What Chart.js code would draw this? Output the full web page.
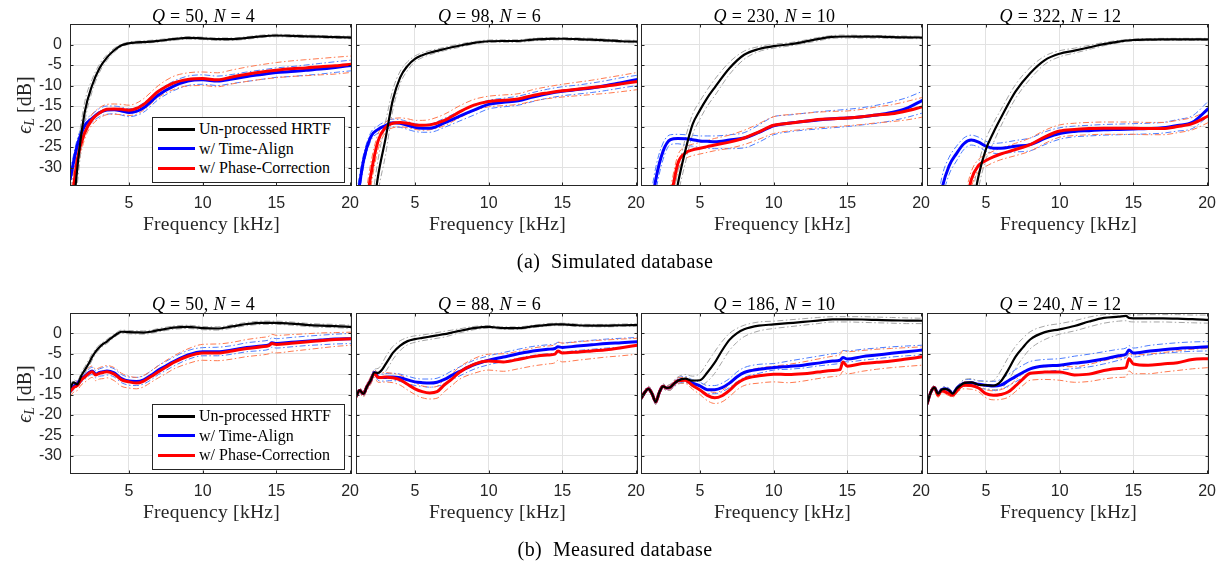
<!DOCTYPE html>
<html>
<head>
<meta charset="utf-8">
<script src="https://cdn.jsdelivr.net/npm/chart.js@4.4.1/dist/chart.umd.min.js"></script>
<style>
body { margin: 0; background: #fff; }
#fig { position: relative; width: 1225px; height: 561px; overflow: hidden; font-family: "Liberation Serif", "Times New Roman", serif; color: #000; }
canvas { position: absolute; }
.ttl { position: absolute; font-size: 18px; white-space: nowrap; transform: translate(-50%, -50%); letter-spacing: 0.3px; }
.xlab { position: absolute; font-size: 19.5px; white-space: nowrap; color: #262626; transform: translate(-50%, -50%); letter-spacing: 0.3px; }
.ylab { position: absolute; font-size: 20px; white-space: nowrap; color: #262626; transform: translate(-50%, -50%) rotate(-90deg); }
.ylab sub { font-size: 0.7em; line-height: 0; vertical-align: -0.25em; }
.cap { position: absolute; font-size: 20px; white-space: nowrap; transform: translate(-50%, -50%); letter-spacing: 0.4px; }
.leg { position: absolute; background: #fff; border: 1px solid #262626; box-sizing: border-box; }
.leg .ln { position: absolute; left: 5px; width: 37px; height: 3px; }
.leg .tx { position: absolute; left: 46px; font-size: 16px; white-space: nowrap; transform: translateY(-50%); }
</style>
</head>
<body>
<div id="fig"></div>
<script>
// frequency grids (kHz)
const freqSim = [1, 1.5, 2, 2.5, 3, 3.5, 4, 4.5, 5, 5.5, 6, 7, 8, 9, 10, 11, 12, 13, 14, 15, 16, 17, 18, 19, 20.1];
const freqMeas = [1, 1.25, 1.5, 1.75, 2, 2.25, 2.5, 2.75, 3, 3.25, 3.5, 4, 4.5, 5, 5.5, 6, 6.5, 7, 7.5, 8, 9, 10, 11, 12, 13, 14, 14.5, 14.7, 15, 16, 17, 18, 19, 20.1];

const xTicks = [5, 10, 15, 20];
const yTicks = [0, -5, -10, -15, -20, -25, -30];

const simQ = [50, 98, 230, 322];
const simN = [4, 6, 10, 12];
const measQ = [50, 88, 186, 240];
const measN = [4, 6, 10, 12];

const seriesNames = ["Un-processed HRTF", "w/ Time-Align", "w/ Phase-Correction"];

// simulated database, panel 1
const s1Black   = [-50, -30, -16.5, -10, -5.8, -3.2, -1.4, -0.2, 0.3, 0.5, 0.6, 0.9, 1.3, 1.6, 1.5, 1.3, 1.3, 1.6, 2.0, 2.2, 2.1, 2.0, 1.9, 1.8, 1.7];
const s1BlackHi = [-45, -26, -14, -8.5, -4.8, -2.5, -0.9, 0.1, 0.6, 0.8, 0.9, 1.2, 1.6, 1.9, 1.8, 1.6, 1.6, 1.9, 2.3, 2.5, 2.4, 2.3, 2.2, 2.1, 2.0];
const s1BlackLo = [-55, -34, -19, -11.5, -6.8, -3.9, -1.9, -0.5, 0, 0.2, 0.3, 0.6, 1.0, 1.3, 1.2, 1.0, 1.0, 1.3, 1.7, 1.9, 1.8, 1.7, 1.6, 1.5, 1.4];
const s1Blue    = [-33, -24.5, -19.8, -18, -16.6, -16, -15.9, -16.2, -16.6, -16.3, -15.4, -12.3, -10.2, -8.9, -8.6, -8.9, -8.4, -7.8, -7.3, -6.8, -6.6, -6.3, -6.0, -5.6, -5.1];
const s1BlueHi  = [-31, -23, -18.7, -17, -15.6, -15, -15, -15.3, -15.7, -15.3, -14.2, -11.2, -9, -7.7, -7.4, -7.7, -7.3, -6.7, -6.2, -5.7, -5.4, -5.0, -4.6, -4.2, -3.8];
const s1BlueLo  = [-35, -26, -21, -19, -17.6, -17, -16.9, -17.2, -17.6, -17.3, -16.5, -13.4, -11.3, -10, -9.7, -10, -9.5, -9, -8.5, -8, -7.8, -7.5, -7.2, -6.8, -6.4];
const s1Red     = [-42, -28, -21.5, -18.3, -16.7, -15.8, -15.7, -15.8, -16.0, -15.6, -14.6, -11.4, -9.4, -8.5, -8.3, -8.6, -7.9, -7.25, -6.7, -6.25, -5.9, -5.7, -5.4, -5.2, -4.8];
const s1RedHi   = [-38, -25, -20, -17, -15.4, -14.6, -14.5, -14.6, -14.8, -14.3, -13.2, -10, -7.8, -6.9, -6.7, -6.9, -6.2, -5.5, -4.9, -4.4, -4.0, -3.7, -3.4, -3.1, -2.8];
const s1RedLo   = [-46, -31, -23, -19.6, -18, -17.1, -17, -17.1, -17.3, -17, -16, -12.9, -11, -10.1, -10, -10.3, -9.6, -9, -8.5, -8.1, -7.8, -7.6, -7.4, -7.2, -6.8];

// simulated database, panel 2
const s2Black   = [-60, -55, -45, -32, -23, -13.5, -8, -5.2, -3.5, -2.6, -2, -1.1, -0.3, 0.4, 0.8, 0.85, 0.85, 1.2, 1.35, 1.4, 1.3, 1.2, 1.0, 0.8, 0.7];
const s2BlackHi = [-55, -50, -40, -28, -19, -11, -6.5, -4.2, -2.8, -2, -1.5, -0.7, 0.1, 0.7, 1.1, 1.15, 1.15, 1.5, 1.65, 1.7, 1.6, 1.5, 1.3, 1.1, 1.0];
const s2BlackLo = [-65, -60, -50, -36, -27, -16, -9.5, -6.3, -4.2, -3.2, -2.5, -1.5, -0.7, 0.1, 0.5, 0.55, 0.55, 0.9, 1.05, 1.1, 1.0, 0.9, 0.7, 0.5, 0.4];
const s2Blue    = [-40, -28.5, -22.5, -20.7, -19.8, -19.1, -19.2, -19.7, -20.2, -20.4, -20.4, -19.1, -17.5, -16, -14.6, -14.1, -13.7, -12.8, -12, -11.4, -11, -10.6, -10, -9.3, -8.5];
const s2BlueHi  = [-37, -27, -21.5, -19.8, -18.8, -18.2, -18.3, -18.8, -19.3, -19.5, -19.4, -18, -16.3, -14.8, -13.6, -13.1, -12.6, -11.7, -10.9, -10.3, -9.9, -9.4, -8.8, -8.1, -7.5];
const s2BlueLo  = [-43, -30, -23.5, -21.6, -20.8, -20.1, -20.2, -20.7, -21.2, -21.4, -21.4, -20.2, -18.7, -17.2, -15.7, -15.2, -14.8, -13.9, -13.1, -12.5, -12.1, -11.7, -11.2, -10.6, -10];
const s2Red     = [-60, -45, -32, -23.5, -20.2, -19.2, -19, -19.2, -19.6, -19.7, -19.6, -18.5, -16.5, -14.8, -13.9, -13.6, -13.3, -12.4, -11.8, -11.3, -10.9, -10.5, -10.1, -9.6, -9];
const s2RedHi   = [-55, -41, -29, -21.8, -19, -18.1, -17.9, -18.1, -18.5, -18.5, -18.3, -17, -15, -13.4, -12.6, -12.3, -12, -11, -10.3, -9.7, -9.2, -8.7, -8.1, -7.5, -6.8];
const s2RedLo   = [-65, -49, -35, -25.5, -21.5, -20.3, -20.1, -20.3, -20.7, -20.9, -20.8, -19.8, -17.9, -16.2, -15.2, -14.9, -14.6, -13.8, -13.2, -12.8, -12.5, -12.2, -11.9, -11.5, -11];

// simulated database, panel 3
const s3Black   = [-90, -80, -70, -60, -45, -34, -26, -19.5, -16, -13, -10.5, -5.8, -2.5, -1.1, -0.4, 0, 0.6, 1.3, 1.85, 1.95, 1.9, 1.9, 1.8, 1.75, 1.7];
const s3BlackHi = [-85, -75, -65, -55, -41, -31, -23, -17, -13.8, -11, -8.5, -4.3, -1.6, -0.5, 0.1, 0.4, 1.0, 1.7, 2.2, 2.3, 2.2, 2.2, 2.1, 2.05, 2.0];
const s3BlackLo = [-95, -85, -75, -65, -49, -37, -29, -22, -18.2, -15, -12.5, -7.3, -3.6, -1.7, -0.9, -0.4, 0.2, 0.9, 1.5, 1.6, 1.55, 1.55, 1.5, 1.45, 1.4];
const s3Blue    = [-60, -45, -33, -26, -23.2, -22.9, -23, -23.2, -23.5, -23.6, -23.7, -23.3, -22.8, -21.4, -19.8, -19.2, -18.8, -18.4, -18.1, -17.9, -17.6, -17.2, -16.6, -15.6, -13.6];
const s3BlueHi  = [-55, -41, -30, -24, -22, -21.9, -22, -22.1, -22.3, -22.3, -22.3, -22, -21.5, -19.6, -17.6, -17.2, -16.8, -16.4, -16.1, -15.8, -15.4, -14.8, -14, -13, -11.4];
const s3BlueLo  = [-65, -49, -36, -28, -24.4, -24.2, -24.5, -24.8, -25.1, -25.3, -25.4, -25.4, -25.2, -23.8, -22, -21.3, -20.9, -20.6, -20.3, -20, -19.6, -19.2, -18.6, -17.8, -16.7];
const s3Red     = [-70, -65, -58, -48, -38, -29, -26.5, -25.7, -25.3, -24.9, -24.5, -23.8, -22.8, -21.3, -19.7, -19.2, -18.8, -18.3, -18.1, -17.9, -17.6, -17.2, -16.9, -16.2, -15.2];
const s3RedHi   = [-65, -60, -53, -44, -35, -27, -25, -24.3, -23.9, -23.4, -22.9, -22.1, -20.9, -19.3, -17.6, -17.1, -16.8, -16.5, -16.3, -16.2, -15.8, -15.2, -14.7, -13.9, -12.9];
const s3RedLo   = [-75, -70, -63, -52, -41, -31, -28, -27.1, -26.7, -26.3, -25.9, -25.3, -24.4, -23.1, -21.7, -21.1, -20.7, -20.3, -20.1, -19.8, -19.5, -19.1, -18.8, -18.4, -17.7];

// simulated database, panel 4
const s4Black   = [-95, -90, -85, -78, -68, -55, -42, -32, -25.5, -21.5, -18, -11.5, -7, -3.8, -2.25, -1.5, -0.7, 0.1, 0.7, 1.1, 1.2, 1.25, 1.25, 1.25, 1.25];
const s4BlackHi = [-90, -85, -80, -72, -62, -50, -38, -29, -23, -19.2, -16, -9.8, -5.6, -2.8, -1.5, -0.9, -0.2, 0.5, 1.0, 1.35, 1.45, 1.5, 1.5, 1.5, 1.5];
const s4BlackLo = [-100, -95, -90, -84, -74, -60, -46, -35, -28, -24, -20, -13.2, -8.4, -4.8, -3, -2.1, -1.2, -0.3, 0.4, 0.85, 0.95, 1.0, 1.0, 1.0, 1.0];
const s4Blue    = [-60, -48, -35.5, -29.6, -26.6, -24.2, -23.3, -23.8, -24.8, -25.3, -25.3, -24.8, -24.4, -22.9, -21.7, -21.2, -21, -20.8, -20.7, -20.6, -20.5, -20.3, -19.75, -19, -15.6];
const s4BlueHi  = [-55, -44, -32.5, -27.5, -24.8, -22.8, -22.1, -22.6, -23.6, -24.1, -24, -23.4, -22.8, -21.3, -20.3, -19.9, -19.7, -19.5, -19.4, -19.3, -19.2, -19, -18.3, -17.4, -13.8];
const s4BlueLo  = [-65, -52, -38.5, -31.7, -28.4, -25.6, -24.5, -25, -26, -26.5, -26.6, -26.2, -25.9, -24.4, -23.1, -22.5, -22.3, -22.1, -22, -21.9, -21.8, -21.6, -21.1, -20.5, -17.4];
const s4Red     = [-80, -75, -70, -60, -50, -42, -33, -29.5, -28.3, -27.4, -26.7, -25.6, -24.4, -22.5, -21.1, -20.7, -20.5, -20.4, -20.4, -20.4, -20.5, -20.5, -20, -19.3, -17.4];
const s4RedHi   = [-75, -70, -65, -56, -46, -38, -31, -28, -26.9, -26, -25.3, -24.1, -22.8, -20.9, -19.6, -19.2, -19, -18.9, -18.9, -18.9, -19, -19, -18.5, -17.8, -16.1];
const s4RedLo   = [-85, -80, -75, -64, -54, -46, -35, -31, -29.7, -28.8, -28.1, -27.1, -26, -24.1, -22.6, -22.2, -22, -21.9, -21.9, -21.9, -22, -22, -21.5, -20.8, -19];

// measured database, panel 1
const m1Black   = [-13.5, -12, -12.5, -10.5, -9, -7.5, -5.8, -4.4, -3.4, -2.6, -2, -0.6, 0.4, 0.3, 0.25, 0.2, 0.4, 0.8, 1.1, 1.4, 1.6, 1.3, 1.2, 1.7, 2.3, 2.6, 2.6, 2.6, 2.6, 2.4, 2.1, 1.9, 1.8, 1.6];
const m1BlackHi = [-13, -11.4, -11.8, -9.7, -8.2, -6.6, -5, -3.8, -2.8, -2.1, -1.5, -0.2, 0.8, 0.7, 0.65, 0.6, 0.8, 1.2, 1.5, 1.8, 2.0, 1.7, 1.6, 2.1, 2.7, 3.0, 3.0, 3.0, 3.0, 2.8, 2.5, 2.3, 2.2, 2.0];
const m1BlackLo = [-14, -12.6, -13.2, -11.3, -9.8, -8.4, -6.6, -5, -4, -3.1, -2.5, -1, 0, -0.1, -0.15, -0.2, 0, 0.4, 0.7, 1.0, 1.2, 0.9, 0.8, 1.3, 1.9, 2.2, 2.2, 2.2, 2.2, 2.0, 1.7, 1.5, 1.4, 1.2];
const m1Blue    = [-14, -13, -12.3, -11.2, -10.5, -9.7, -9.2, -10, -9.6, -9.4, -9.2, -9.7, -11.1, -11.7, -11.8, -11.4, -10.3, -9, -8, -7, -5.3, -4.5, -4.5, -4.1, -3.45, -3.1, -2.8, -2.3, -2.5, -2.2, -1.9, -1.65, -1.4, -1.3];
const m1BlueHi  = [-13.2, -12.2, -11.5, -10.4, -9.7, -8.9, -8.3, -9.1, -8.7, -8.4, -8.2, -8.7, -10.1, -10.7, -10.8, -10.4, -9.2, -7.9, -6.9, -5.9, -4.2, -3.5, -3.4, -3, -2.3, -1.9, -1.6, -1.1, -1.3, -1, -0.7, -0.45, -0.2, 0];
const m1BlueLo  = [-14.8, -13.8, -13.1, -12, -11.3, -10.5, -10.1, -10.9, -10.5, -10.4, -10.2, -10.7, -12.1, -12.7, -12.8, -12.4, -11.4, -10.1, -9.1, -8.1, -6.4, -5.5, -5.5, -5.1, -4.5, -4.2, -3.9, -3.4, -3.6, -3.3, -3, -2.8, -2.6, -2.5];
const m1Red     = [-14.3, -13.3, -12.8, -11.5, -10.7, -9.9, -9.4, -10.2, -9.8, -9.6, -9.4, -10, -11.4, -11.9, -12.2, -11.7, -10.6, -9.4, -8.3, -7.2, -5.6, -4.8, -4.8, -4.3, -3.7, -3.3, -3.0, -2.5, -2.7, -2.4, -2.1, -1.8, -1.5, -1.3];
const m1RedHi   = [-13.2, -12.2, -11.6, -10.3, -9.4, -8.5, -8, -8.8, -8.4, -8.1, -7.9, -8.4, -9.8, -10.5, -10.8, -10.3, -9.2, -7.9, -6.7, -5.6, -3.8, -2.7, -2.6, -2.2, -1.5, -1.0, -0.7, -0.2, -0.5, -0.3, -0.1, 0.1, 0.2, 0.3];
const m1RedLo   = [-15.4, -14.4, -14, -12.7, -12, -11.3, -10.8, -11.6, -11.2, -11.1, -10.9, -11.6, -13, -13.4, -13.6, -13.1, -12, -10.9, -9.9, -8.8, -7.4, -6.6, -6.7, -6.3, -5.7, -5.3, -5.0, -4.6, -4.8, -4.4, -4.0, -3.6, -3.2, -2.9];

// measured database, panel 2
const m2Black   = [-15.5, -14, -14.8, -13, -11.5, -9.6, -9.7, -9, -7.6, -6.2, -4.8, -3, -1.9, -1.4, -1.1, -0.8, -0.5, -0.2, 0.2, 0.6, 1.3, 1.6, 1.3, 1.3, 1.7, 2.1, 2.2, 2.2, 2.2, 2.0, 1.9, 1.9, 2.0, 2.05];
const m2BlackHi = [-15, -13.5, -14.2, -12.3, -10.7, -8.8, -8.6, -7.5, -5.8, -4.4, -3.2, -1.8, -1, -0.6, -0.4, -0.1, 0.2, 0.5, 0.8, 1.1, 1.7, 1.9, 1.6, 1.6, 2.0, 2.4, 2.5, 2.5, 2.5, 2.3, 2.2, 2.2, 2.3, 2.35];
const m2BlackLo = [-16, -14.5, -15.4, -13.7, -12.3, -10.4, -10.8, -10.5, -9.4, -8, -6.4, -4.2, -2.8, -2.2, -1.8, -1.5, -1.2, -0.9, -0.4, 0.1, 0.9, 1.3, 1.0, 1.0, 1.4, 1.8, 1.9, 1.9, 1.9, 1.7, 1.6, 1.6, 1.7, 1.75];
const m2Blue    = [-15.5, -14, -14.8, -13, -11.5, -9.6, -10.7, -10.85, -10.8, -10.7, -10.7, -10.9, -11.4, -11.9, -12.1, -12.2, -12, -11.3, -10.3, -9.4, -7.7, -6.6, -5.8, -5.0, -4.3, -3.9, -3.7, -3.3, -3.45, -3.1, -2.8, -2.5, -2.3, -2.05];
const m2BlueHi  = [-15, -13.4, -14.2, -12.3, -10.8, -8.9, -9.9, -10, -9.9, -9.8, -9.8, -10, -10.5, -11, -11.2, -11.2, -11, -10.2, -9.2, -8.3, -6.6, -5.5, -4.7, -3.9, -3.2, -2.8, -2.6, -2.2, -2.35, -2, -1.7, -1.4, -1.2, -1];
const m2BlueLo  = [-16, -14.6, -15.4, -13.7, -12.2, -10.3, -11.5, -11.7, -11.7, -11.6, -11.6, -11.8, -12.3, -12.8, -13, -13.2, -13, -12.4, -11.4, -10.5, -8.8, -7.7, -6.9, -6.1, -5.4, -5.0, -4.8, -4.4, -4.55, -4.2, -3.9, -3.6, -3.4, -3.1];
const m2Red     = [-15.5, -14, -14.8, -13, -11.5, -9.8, -10.85, -10.8, -10.7, -10.8, -10.9, -11.4, -12.5, -13.6, -14.3, -14.6, -14.3, -12.6, -11.2, -9.6, -7.6, -6.8, -7.0, -6.4, -5.7, -5.3, -5.1, -4.3, -4.8, -4.6, -4.3, -4.0, -3.5, -2.9];
const m2RedHi   = [-15, -13.4, -14.1, -12.2, -10.6, -8.9, -9.8, -9.7, -9.6, -9.7, -9.8, -10.2, -11.2, -12.2, -12.9, -13.2, -13, -11.3, -9.9, -8.3, -6.2, -5.1, -5.0, -4.4, -3.6, -3.1, -2.8, -2.1, -2.4, -2.1, -1.8, -1.6, -1.4, -1.2];
const m2RedLo   = [-16.2, -14.8, -15.6, -13.9, -12.5, -10.8, -12, -12, -11.9, -12, -12.1, -12.7, -13.9, -15, -15.8, -16.1, -15.9, -14.3, -12.8, -11.3, -9.8, -9.0, -9.3, -8.7, -8.0, -7.5, -7.2, -6.6, -7.0, -6.6, -6.2, -5.8, -5.5, -5.1];

// measured database, panel 3
const m3Black   = [-16, -14.5, -13.6, -14.8, -16.8, -14.4, -13, -13.4, -13.2, -12.3, -11.6, -11.1, -11.6, -11.5, -9.6, -7.2, -4.2, -1.6, 0, 1.0, 1.9, 2.2, 2.5, 2.8, 3.15, 3.45, 3.45, 3.45, 3.45, 3.4, 3.3, 3.2, 3.15, 3.1];
const m3BlackHi = [-15.5, -14, -13, -14.2, -16.2, -13.8, -12.4, -12.8, -12.5, -11.5, -10.7, -10.1, -10.5, -9.8, -7.2, -4.5, -2, 0, 1.2, 2.0, 2.8, 3.0, 3.3, 3.6, 3.9, 4.1, 4.1, 4.1, 4.1, 4.1, 4.0, 3.9, 3.8, 3.7];
const m3BlackLo = [-16.5, -15, -14.2, -15.4, -17.4, -15, -13.6, -14, -13.9, -13.1, -12.5, -12.1, -12.6, -12.8, -11.8, -9.8, -7, -4.2, -2.2, -0.8, 0.6, 1.2, 1.6, 2.0, 2.4, 2.8, 2.8, 2.8, 2.8, 2.7, 2.6, 2.5, 2.4, 2.4];
const m3Blue    = [-16, -14.5, -13.6, -14.8, -16.8, -14.4, -13, -13.4, -13.2, -12.3, -11.6, -11.3, -12.2, -12.9, -13.8, -13.8, -13.3, -12.2, -10.7, -9.6, -8.8, -8.4, -8.1, -7.8, -7.3, -6.8, -6.6, -5.9, -6.3, -5.7, -5.3, -4.9, -4.5, -4.1];
const m3BlueHi  = [-15.5, -14, -13, -14.2, -16.2, -13.8, -12.4, -12.8, -12.5, -11.6, -10.9, -10.6, -11.4, -12, -12.8, -12.8, -12.2, -11.1, -9.5, -8.4, -7.6, -7.4, -6.8, -6.2, -5.6, -5.0, -4.7, -4.2, -4.3, -3.9, -3.6, -3.3, -3.1, -2.9];
const m3BlueLo  = [-16.5, -15, -14.2, -15.4, -17.4, -15, -13.6, -14, -13.9, -13, -12.3, -12, -13, -13.8, -14.8, -14.8, -14.3, -13.3, -11.9, -10.8, -9.8, -9, -8.8, -8.5, -8, -7.6, -7.3, -6.8, -7, -6.6, -6.2, -5.8, -5.5, -5.3];
const m3Red     = [-16, -14.5, -13.6, -14.8, -16.8, -14.4, -13, -13.4, -13.2, -12.3, -11.6, -11.5, -12.8, -13.9, -15.2, -15.8, -15.3, -14, -12.3, -11.2, -10.4, -10, -10.1, -9.9, -9.5, -9.1, -8.9, -7.0, -8.05, -7.4, -7.1, -6.8, -6.3, -5.75];
const m3RedHi   = [-15.5, -14, -13, -14.2, -16.2, -13.8, -12.4, -12.8, -12.5, -11.6, -10.9, -10.8, -12, -13, -14, -14.5, -14, -12.6, -10.8, -9.5, -8.5, -8.05, -7.6, -7, -6.3, -5.6, -5.2, -4.2, -4.5, -4.2, -3.9, -3.7, -3.5, -3.3];
const m3RedLo   = [-16.5, -15, -14.2, -15.4, -17.4, -15, -13.6, -14, -13.9, -13, -12.3, -12.3, -13.7, -15, -16.5, -17.2, -16.8, -15.5, -13.9, -12.8, -12.2, -11.9, -12.1, -11.7, -11.1, -10.6, -10.3, -9.3, -9.9, -9.3, -8.8, -8.4, -8.1, -7.8];

// measured database, panel 4
const m4Black   = [-17.4, -14.5, -13.3, -14.8, -13.8, -13.6, -14, -14.8, -13.6, -12.8, -12.2, -12, -12.6, -12.7, -12.8, -11.8, -9, -5.75, -3.5, -1.5, 0.3, 1.0, 1.8, 2.9, 3.8, 4.1, 4.3, 3.8, 3.7, 3.7, 3.7, 3.6, 3.5, 3.3];
const m4BlackHi = [-17, -14, -12.8, -14.3, -13.3, -13.1, -13.5, -14.3, -13.1, -12.2, -11.4, -11.1, -11.7, -11.8, -11.6, -9.2, -6, -3.2, -1.2, 0.4, 1.8, 2.4, 3.1, 4.0, 4.6, 4.8, 4.9, 4.6, 4.5, 4.6, 4.6, 4.6, 4.5, 4.5];
const m4BlackLo = [-17.8, -15, -13.8, -15.3, -14.3, -14.1, -14.5, -15.3, -14.1, -13.4, -13, -12.9, -13.5, -13.6, -13.8, -13.6, -11.6, -8.6, -6, -3.8, -1.5, -0.2, 0.6, 1.6, 2.5, 3.0, 3.1, 2.9, 2.8, 2.8, 2.8, 2.7, 2.6, 2.5];
const m4Blue    = [-17.4, -14.5, -13.3, -14.8, -13.8, -13.6, -14, -14.8, -13.6, -12.8, -12.2, -12.1, -12.5, -12.7, -12.9, -12.7, -11.7, -10.6, -9.6, -8.7, -8.0, -7.8, -7.3, -6.9, -6.3, -5.5, -5.1, -4.1, -4.8, -4.4, -4.0, -3.7, -3.5, -3.3];
const m4BlueHi  = [-17, -14, -12.8, -14.3, -13.3, -13.1, -13.5, -14.3, -13.1, -12.2, -11.4, -11.3, -11.6, -11.7, -11.8, -11.3, -10.1, -8.9, -7.8, -6.9, -6.4, -6.2, -5.6, -5.1, -4.5, -3.9, -3.6, -3.0, -3.6, -3.0, -2.6, -2.3, -2.1, -2.0];
const m4BlueLo  = [-17.8, -15, -13.8, -15.3, -14.3, -14.1, -14.5, -15.3, -14.1, -13.4, -13, -12.9, -13.4, -13.7, -14, -13.8, -12.9, -11.9, -10.9, -10, -9.4, -9.0, -8.6, -8.2, -7.5, -6.6, -6.0, -5.2, -5.8, -5.3, -4.9, -4.6, -4.4, -4.3];
const m4Red     = [-17.4, -14.5, -13.3, -15.2, -14, -14.4, -14.8, -15.2, -14.2, -13.2, -12.7, -12.8, -13.4, -14.8, -15.2, -15, -14.4, -12.9, -11.2, -9.8, -9.5, -9.45, -10.2, -10, -9.1, -8.6, -8.4, -6.2, -7.5, -7.8, -7.5, -7.2, -6.4, -6.2];
const m4RedHi   = [-17, -14, -12.8, -14.7, -13.5, -13.9, -14.3, -14.7, -13.7, -12.5, -11.8, -11.9, -12.6, -13.8, -14.1, -13.8, -13.1, -11.5, -9.9, -8.6, -8.2, -8.1, -8.2, -7.6, -6.7, -6.0, -5.8, -4.9, -5.3, -5.1, -4.7, -4.3, -3.9, -3.7];
const m4RedLo   = [-17.8, -15, -13.8, -15.7, -14.5, -14.9, -15.3, -15.7, -14.7, -13.9, -13.6, -13.7, -14.3, -15.8, -16.3, -16.2, -15.7, -14.3, -12.8, -11.5, -11.3, -11.5, -12, -11.8, -11.2, -10.8, -10.7, -9.2, -9.9, -9.9, -9.5, -9.1, -8.7, -8.4];

const simPanels = [
    [s1Black, s1BlackHi, s1BlackLo, s1Blue, s1BlueHi, s1BlueLo, s1Red, s1RedHi, s1RedLo],
    [s2Black, s2BlackHi, s2BlackLo, s2Blue, s2BlueHi, s2BlueLo, s2Red, s2RedHi, s2RedLo],
    [s3Black, s3BlackHi, s3BlackLo, s3Blue, s3BlueHi, s3BlueLo, s3Red, s3RedHi, s3RedLo],
    [s4Black, s4BlackHi, s4BlackLo, s4Blue, s4BlueHi, s4BlueLo, s4Red, s4RedHi, s4RedLo]
];
const measPanels = [
    [m1Black, m1BlackHi, m1BlackLo, m1Blue, m1BlueHi, m1BlueLo, m1Red, m1RedHi, m1RedLo],
    [m2Black, m2BlackHi, m2BlackLo, m2Blue, m2BlueHi, m2BlueLo, m2Red, m2RedHi, m2RedLo],
    [m3Black, m3BlackHi, m3BlackLo, m3Blue, m3BlueHi, m3BlueLo, m3Red, m3RedHi, m3RedLo],
    [m4Black, m4BlackHi, m4BlackLo, m4Blue, m4BlueHi, m4BlueLo, m4Red, m4RedHi, m4RedLo]
];

// layout
const colLeft = [70, 356, 641, 927];
const plotW = 283;
const rowTop = [24, 313];
const plotH = [162, 161];
const xAxisH = 50;
const padTop = 20;   // big enough that the top tick label never pushes the plot down
const padRight = 14;

const fig = document.getElementById('fig');

// box + inward ticks, like the matlab axes
const frame = {
    id: 'frame',
    afterDatasetsDraw(chart) {
        const { ctx, chartArea: a, scales: { x, y } } = chart;
        const l = Math.round(a.left) + 0.5, r = Math.round(a.right) - 0.5;
        const t = Math.round(a.top) + 0.5, b = Math.round(a.bottom) - 0.5;
        ctx.save();
        ctx.strokeStyle = '#262626';
        ctx.lineWidth = 1;
        ctx.strokeRect(l, t, r - l, b - t);
        ctx.beginPath();
        xTicks.forEach(v => {
            const px = Math.round(x.getPixelForValue(v)) + 0.5;
            ctx.moveTo(px, b); ctx.lineTo(px, b - 3);
            ctx.moveTo(px, t); ctx.lineTo(px, t + 3);
        });
        yTicks.forEach(v => {
            const py = Math.round(y.getPixelForValue(v)) + 0.5;
            ctx.moveTo(l, py); ctx.lineTo(l + 3, py);
            ctx.moveTo(r, py); ctx.lineTo(r - 3, py);
        });
        ctx.stroke();
        ctx.restore();
    }
};

function line(freq, vals, color, width, dash) {
    return {
        data: vals.map((v, i) => ({ x: freq[i], y: v })),
        borderColor: color,
        borderWidth: width,
        borderDash: dash || [],
        pointRadius: 0,
        fill: false,
        cubicInterpolationMode: 'monotone',
        clip: 0
    };
}

const dashDot = [6, 2.5, 1.5, 2.5];

function makePanel(row, col, freq, sets) {
    const axW = col === 0 ? 70 : 6;
    const cv = document.createElement('canvas');
    const w = axW + plotW + padRight;
    const h = padTop + plotH[row] + xAxisH;
    cv.width = w; cv.height = h;
    cv.style.left = (colLeft[col] - axW) + 'px';
    cv.style.top = (rowTop[row] - padTop) + 'px';
    cv.style.width = w + 'px'; cv.style.height = h + 'px';
    fig.appendChild(cv);

    const [bk, bkHi, bkLo, bl, blHi, blLo, rd, rdHi, rdLo] = sets;
    // first dataset is drawn on top
    const datasets = [
        line(freq, bk, '#000000', 2.2),
        line(freq, rd, '#ff0000', 3),
        line(freq, bl, '#0000ff', 3),
        line(freq, bkHi, '#a6a6a6', 1, dashDot),
        line(freq, bkLo, '#a6a6a6', 1, dashDot),
        line(freq, rdHi, '#ff7a50', 1, dashDot),
        line(freq, rdLo, '#ff7a50', 1, dashDot),
        line(freq, blHi, '#4d7dff', 1, dashDot),
        line(freq, blLo, '#4d7dff', 1, dashDot)
    ];

    new Chart(cv, {
        type: 'line',
        data: { datasets: datasets },
        options: {
            responsive: false,
            animation: false,
            devicePixelRatio: 1,
            layout: { padding: { left: 0, right: padRight, top: padTop, bottom: 0 } },
            plugins: { legend: { display: false }, tooltip: { enabled: false } },
            scales: {
                x: {
                    type: 'linear',
                    min: 1,
                    max: 20.1,
                    afterBuildTicks: s => { s.ticks = xTicks.map(v => ({ value: v })); },
                    afterFit: s => { s.height = xAxisH; },
                    grid: { color: '#e2e2e2', drawTicks: false },
                    border: { display: false },
                    ticks: {
                        padding: 8,
                        color: '#262626',
                        font: { family: '"Liberation Sans", Arial, sans-serif', size: 16 },
                        maxRotation: 0,
                        callback: v => String(v)
                    }
                },
                y: {
                    type: 'linear',
                    min: -34.5,
                    max: 5,
                    afterBuildTicks: s => { s.ticks = yTicks.map(v => ({ value: v })); },
                    afterFit: s => { s.width = axW; },
                    grid: { color: '#e2e2e2', drawTicks: false },
                    border: { display: false },
                    ticks: {
                        display: col === 0,
                        padding: 8,
                        color: '#262626',
                        font: { family: '"Liberation Sans", Arial, sans-serif', size: 16 },
                        callback: v => String(v)
                    }
                }
            }
        },
        plugins: [frame]
    });
}

function addHtml(cls, x, y, html) {
    const d = document.createElement('div');
    d.className = cls;
    d.style.left = x + 'px';
    d.style.top = y + 'px';
    d.innerHTML = html;
    fig.appendChild(d);
    return d;
}

function addLegend(top) {
    const d = addHtml('leg', 152, top, '');
    d.style.width = '193px';
    d.style.height = '66px';
    const colors = ['#000000', '#0000ff', '#ff0000'];
    const ys = [11, 30.5, 50];
    seriesNames.forEach((name, i) => {
        const ln = document.createElement('div');
        ln.className = 'ln';
        ln.style.top = (ys[i] - 1.5) + 'px';
        ln.style.background = colors[i];
        d.appendChild(ln);
        const tx = document.createElement('div');
        tx.className = 'tx';
        tx.style.top = ys[i] + 'px';
        tx.textContent = name;
        d.appendChild(tx);
    });
}

for (let c = 0; c < 4; c++) {
    makePanel(0, c, freqSim, simPanels[c]);
    makePanel(1, c, freqMeas, measPanels[c]);
    const cx = colLeft[c] + plotW / 2;
    addHtml('ttl', cx - 8, rowTop[0] - 8, '<i>Q</i> = ' + simQ[c] + ', <i>N</i> = ' + simN[c]);
    addHtml('ttl', cx - 8, rowTop[1] - 9, '<i>Q</i> = ' + measQ[c] + ', <i>N</i> = ' + measN[c]);
    addHtml('xlab', cx, rowTop[0] + plotH[0] + 38, 'Frequency [kHz]');
    addHtml('xlab', cx, rowTop[1] + plotH[1] + 38, 'Frequency [kHz]');
}

addLegend(117);
addLegend(404);

addHtml('ylab', 24, rowTop[0] + plotH[0] / 2, '<i>ϵ</i><sub><i>L</i></sub> [dB]');
addHtml('ylab', 24, rowTop[1] + plotH[1] / 2, '<i>ϵ</i><sub><i>L</i></sub> [dB]');

addHtml('cap', 615, 261, '(a)&nbsp; Simulated database');
addHtml('cap', 615, 549, '(b)&nbsp; Measured database');
</script>
</body>
</html>
